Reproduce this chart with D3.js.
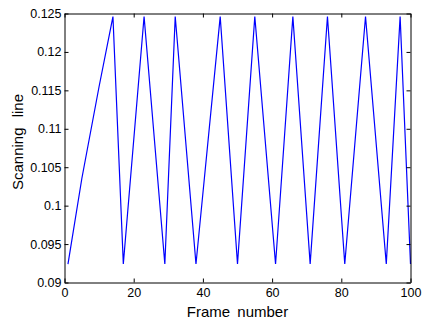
<!DOCTYPE html>
<html>
<head>
<meta charset="utf-8">
<script src="https://cdn.jsdelivr.net/npm/d3@7"></script>
<style>
  html, body { margin: 0; padding: 0; background: #fff; }
  text { font-family: "Liberation Sans", Arial, sans-serif; fill: #000; }
</style>
</head>
<body>
<div id="chart"></div>
<script>
// data
const frames = [1, 5, 10, 14, 17, 23, 29, 32, 38, 45, 50, 55, 61, 66, 71, 76, 81, 87, 93, 97, 100];
const scanLine = [0.0924, 0.1035, 0.1155, 0.1246, 0.0924, 0.1246, 0.0924, 0.1246, 0.0924, 0.1246,
                  0.0924, 0.1246, 0.0924, 0.1246, 0.0924, 0.1246, 0.0924, 0.1246, 0.0924, 0.1246, 0.0924];
const xTicks = [0, 20, 40, 60, 80, 100];
const yTicks = [0.09, 0.095, 0.1, 0.105, 0.11, 0.115, 0.12, 0.125];
const yTickLabels = ["0.09", "0.095", "0.1", "0.105", "0.11", "0.115", "0.12", "0.125"];

const width = 424, height = 324;
const margin = { top: 13.5, right: 13.5, bottom: 41.5, left: 64.5 };
const plotW = width - margin.left - margin.right;
const plotH = height - margin.top - margin.bottom;

const svg = d3.select("#chart").append("svg")
    .attr("width", width)
    .attr("height", height);

const g = svg.append("g")
    .attr("transform", `translate(${margin.left}, ${margin.top})`);

const x = d3.scaleLinear().domain([0, 100]).range([0, plotW]);
const y = d3.scaleLinear().domain([0.09, 0.125]).range([plotH, 0]);

// curve
const points = frames.map((f, i) => ({ f: f, v: scanLine[i] }));
const line = d3.line().x(d => x(d.f)).y(d => y(d.v));
g.append("path")
    .attr("d", line(points))
    .attr("fill", "none")
    .attr("stroke", "#0000ff")
    .attr("stroke-width", 1.2)
    .attr("stroke-linejoin", "miter");

// axes, ticks pointing inward, box on all sides
const fmt = d => yTickLabels[yTicks.indexOf(d)];
g.append("g")
    .attr("transform", `translate(0, ${plotH})`)
    .call(d3.axisBottom(x).tickValues(xTicks).tickSizeInner(-4).tickSizeOuter(0).tickPadding(6));
g.append("g")
    .call(d3.axisTop(x).tickValues(xTicks).tickSizeInner(-4).tickSizeOuter(0).tickFormat(""));
g.append("g")
    .call(d3.axisLeft(y).tickValues(yTicks).tickSizeInner(-4).tickSizeOuter(0).tickPadding(3).tickFormat(fmt));
g.append("g")
    .attr("transform", `translate(${plotW}, 0)`)
    .call(d3.axisRight(y).tickValues(yTicks).tickSizeInner(-4).tickSizeOuter(0).tickFormat(""));

g.selectAll(".domain").attr("stroke", "#000").attr("stroke-width", 1);
g.selectAll(".tick line").attr("stroke", "#000");
g.selectAll(".tick text").style("font-size", "12.5px").attr("fill", "#000");

// axis titles
svg.append("text")
    .attr("x", margin.left + plotW / 2)
    .attr("y", 317)
    .attr("text-anchor", "middle")
    .style("font-size", "15px")
    .style("word-spacing", "3px")
    .text("Frame number");
svg.append("text")
    .attr("transform", "translate(23, 142) rotate(-90)")
    .attr("text-anchor", "middle")
    .style("font-size", "15px")
    .style("word-spacing", "6px")
    .text("Scanning line");
</script>
</body>
</html>
